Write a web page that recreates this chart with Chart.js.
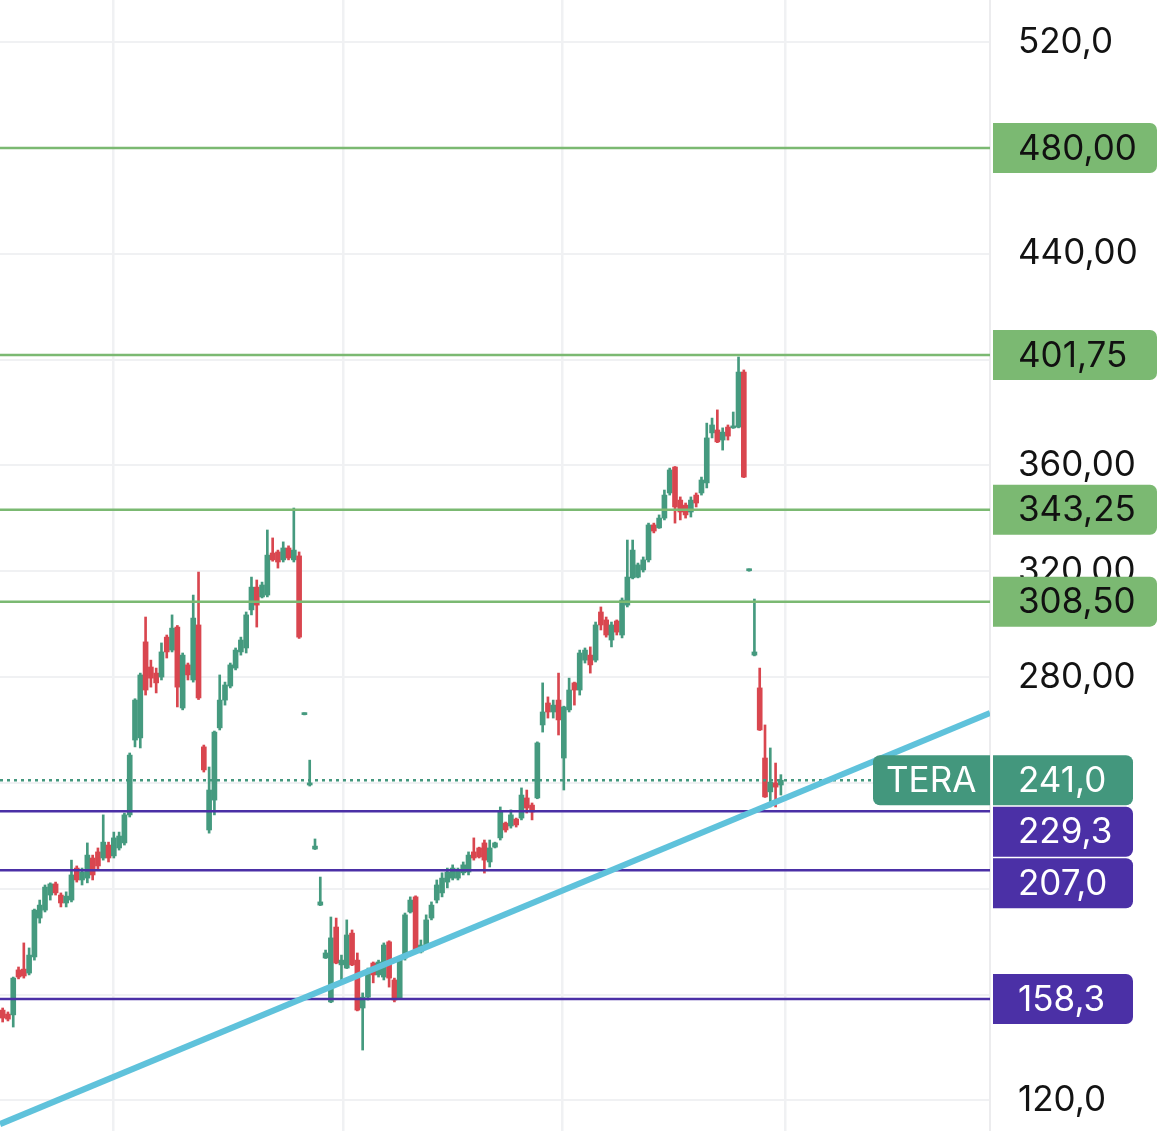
<!DOCTYPE html>
<html>
<head>
<meta charset="utf-8">
<script src="https://cdn.jsdelivr.net/npm/chart.js@4.4.1/dist/chart.umd.min.js"></script>
<style>
  html, body { margin: 0; padding: 0; background: #ffffff; overflow: hidden; }
  #wrap { width: 1170px; height: 1131px; }
</style>
</head>
<body>
<div id="wrap"><canvas id="chart" width="1170" height="1131"></canvas></div>
<script>
// daily candles (oldest first)
const opens = [
  154.1, 152.6, 152.3, 169.3, 169.6, 168.1, 174.2, 188.9, 191.9, 197.6,
  201.8, 197.6, 194.6, 195.7, 207.8, 203.3, 204.0, 211.6, 213.9, 211.6,
  216.5, 212.4, 215.4, 217.3, 227.9, 256.2, 257.0, 293.3, 283.8, 281.5,
  280.0, 295.1, 290.2, 298.9, 268.3, 284.6, 278.9, 299.7, 253.6, 222.2,
  233.5, 260.8, 271.3, 276.6, 283.4, 289.5, 291.0, 305.4, 314.0, 310.3,
  311.0, 326.9, 327.3, 324.3, 328.8, 324.3, 325.8, 265.8, 239.2, 215.0,
  193.8, 173.8, 157.2, 185.5, 171.2, 170.0, 183.2, 173.0, 154.9, 159.0,
  171.9, 167.4, 166.6, 179.9, 165.5, 158.7, 173.8, 191.2, 196.9, 176.1,
  178.7, 188.9, 195.7, 198.4, 202.5, 204.0, 204.0, 206.0, 206.3, 213.9,
  215.4, 217.3, 210.1, 215.7, 219.2, 224.8, 223.7, 226.3, 226.7, 234.3,
  231.6, 234.3, 261.9, 270.2, 266.8, 271.3, 249.4, 267.6, 277.8, 275.1,
  286.4, 288.3, 286.4, 304.6, 301.6, 294.0, 301.2, 295.9, 307.2, 317.5,
  317.8, 320.5, 324.3, 337.5, 336.4, 340.1, 349.6, 359.4, 346.9, 345.0,
  342.4, 348.8, 349.6, 353.4, 372.3, 373.4, 369.6, 374.5, 374.2, 374.5,
  395.3, 320.2, 288.3, 275.9, 249.4, 236.6, 240.0, 239.2
];
const highs = [
  154.9, 153.4, 166.6, 170.4, 179.5, 177.6, 192.3, 195.7, 201.4, 202.2,
  202.5, 198.4, 198.8, 210.8, 208.6, 207.8, 217.3, 212.7, 215.4, 227.9,
  217.6, 221.4, 221.4, 228.6, 251.3, 271.8, 281.5, 302.7, 286.4, 283.4,
  292.9, 295.9, 303.5, 299.5, 289.1, 285.3, 311.0, 319.7, 254.3, 246.0,
  259.6, 280.8, 278.1, 285.3, 291.0, 295.1, 304.6, 317.8, 316.7, 315.9,
  335.6, 332.6, 328.0, 331.1, 329.6, 343.9, 327.3, 266.5, 248.6, 218.8,
  204.4, 176.8, 189.3, 188.9, 174.9, 188.2, 184.4, 175.7, 160.6, 170.0,
  172.3, 173.0, 179.5, 180.3, 166.2, 173.8, 190.8, 196.9, 197.3, 180.6,
  190.1, 195.0, 203.3, 206.0, 207.8, 209.0, 207.8, 210.1, 213.9, 219.2,
  215.7, 218.4, 218.4, 217.6, 230.9, 225.2, 229.8, 226.7, 238.1, 237.3,
  232.4, 255.5, 277.8, 272.5, 271.3, 281.5, 269.0, 279.6, 278.1, 290.2,
  291.0, 291.4, 300.8, 306.5, 302.7, 300.8, 301.6, 309.9, 331.8, 331.8,
  323.1, 325.4, 338.2, 338.2, 341.3, 350.7, 359.0, 359.6, 348.1, 345.8,
  348.1, 349.6, 355.6, 376.0, 377.9, 381.0, 374.2, 375.3, 380.2, 401.0,
  396.1, 320.9, 309.5, 283.4, 261.9, 253.2, 247.5, 243.1
];
const lows = [
  149.6, 150.0, 147.7, 165.9, 166.2, 167.4, 173.0, 187.0, 191.2, 195.7,
  197.6, 193.1, 193.1, 195.0, 202.5, 201.4, 202.2, 203.3, 207.1, 210.8,
  210.1, 211.6, 214.6, 216.5, 227.1, 253.6, 253.2, 273.2, 276.2, 274.0,
  278.9, 287.2, 289.5, 268.7, 267.6, 278.9, 278.1, 271.5, 244.1, 221.0,
  227.9, 260.0, 269.4, 275.9, 282.7, 288.3, 289.1, 303.5, 298.9, 309.9,
  310.3, 323.8, 321.2, 323.5, 324.3, 323.5, 294.6, 265.7, 238.8, 214.8,
  193.6, 173.6, 156.9, 171.6, 165.5, 169.8, 170.9, 153.8, 139.0, 157.9,
  164.4, 166.6, 165.5, 162.8, 157.2, 158.3, 173.0, 190.8, 176.5, 175.7,
  177.9, 188.2, 194.6, 196.9, 200.3, 203.3, 203.3, 205.2, 205.2, 210.8,
  211.6, 205.9, 208.2, 215.4, 218.4, 221.4, 222.9, 223.3, 226.0, 228.6,
  226.0, 234.0, 259.2, 264.5, 264.5, 258.1, 237.3, 266.8, 269.4, 273.2,
  285.3, 281.5, 285.7, 297.8, 295.1, 291.4, 295.9, 294.8, 306.5, 317.1,
  317.5, 319.7, 323.5, 334.5, 336.2, 339.4, 348.8, 338.2, 339.4, 340.1,
  340.5, 344.3, 348.8, 351.5, 370.4, 368.6, 365.8, 369.6, 374.0, 374.2,
  355.4, 320.0, 288.0, 259.8, 234.5, 230.9, 230.9, 235.4
];
const closes = [
  151.1, 150.7, 166.2, 166.6, 167.0, 174.9, 191.9, 193.8, 200.6, 201.8,
  198.4, 194.6, 197.2, 205.2, 203.3, 206.3, 212.7, 205.2, 208.6, 217.6,
  211.6, 219.2, 219.9, 227.9, 250.5, 271.3, 280.8, 275.1, 279.6, 277.8,
  289.5, 289.5, 298.5, 276.2, 288.3, 280.8, 302.3, 272.1, 244.9, 237.3,
  259.2, 271.3, 277.0, 284.6, 290.2, 294.0, 303.5, 314.0, 307.2, 314.8,
  326.1, 324.3, 323.5, 328.8, 325.0, 328.0, 295.1, 266.4, 240.0, 216.1,
  195.0, 175.7, 181.4, 171.9, 173.0, 182.5, 171.2, 154.1, 159.0, 168.5,
  167.4, 172.3, 178.7, 166.2, 157.9, 173.0, 190.1, 195.7, 176.8, 178.7,
  188.2, 193.8, 201.4, 204.0, 206.3, 207.8, 207.1, 209.0, 212.7, 211.6,
  212.0, 210.8, 215.4, 217.3, 229.0, 222.2, 227.9, 224.1, 235.4, 230.5,
  229.0, 255.1, 266.8, 266.8, 269.4, 263.8, 268.7, 275.1, 275.1, 289.1,
  290.2, 284.6, 299.7, 299.7, 295.9, 299.7, 297.0, 309.1, 317.8, 328.0,
  322.4, 324.3, 337.5, 335.2, 340.1, 348.8, 358.3, 344.3, 342.4, 341.3,
  346.9, 345.8, 354.5, 370.4, 375.3, 368.9, 372.6, 371.1, 374.9, 395.3,
  355.6, 320.7, 289.5, 260.0, 234.7, 240.3, 238.4, 241.0
];

// drawn levels and their price tags
const greenLevels = [480, 401.75, 343.25, 308.5];
const greenLabels = ['480,00', '401,75', '343,25', '308,50'];
const purpleLevels = [229.3, 207.0, 158.3];
const purpleLabels = ['229,3', '207,0', '158,3'];
const lastPrice = 241.0;
const lastLabel = '241,0';
const symbol = 'TERA';

// rising trend line, value at the left and right edge of the plot
const trendIdx = [-0.5, 186.5];
const trendVal = [111.0, 266.4];

// axis
const yTicks = [120, 160, 200, 240, 280, 320, 360, 400, 440, 480, 520];
const yTickLabels = ['120,0', '160,0', '200,0', '240,0', '280,00', '320,00', '360,00', '400,00', '440,00', '480,00', '520,0'];
const xGrid = [20.8, 64.3, 105.7, 147.8];

const UP = '#459a7f';
const DOWN = '#d9464f';
const GREEN = '#7bb972';
const PURPLE = '#4b30a6';
const TEAL = '#43977d';
const FONT = 'Inter, "Noto Sans", sans-serif';
const FONT_SIZE = 35;

const xMin = -0.5, xMax = 186.5;
const candleColors = opens.map((o, i) => closes[i] >= o ? UP : DOWN);

function levelLine(v, color, dash) {
  return {
    type: 'line',
    data: [{ x: xMin, y: v }, { x: xMax, y: v }],
    borderColor: color,
    borderWidth: 2.5,
    borderDash: dash || [],
    pointRadius: 0,
    order: 2
  };
}

const datasets = [
  {
    // wicks
    data: opens.map((o, i) => ({ x: i, y: [lows[i], highs[i]] })),
    backgroundColor: candleColors,
    barThickness: 2,
    grouped: false,
    order: 11
  },
  {
    // bodies
    data: opens.map((o, i) => ({ x: i, y: [o, closes[i]] })),
    backgroundColor: candleColors,
    barThickness: 5,
    minBarLength: 2,
    grouped: false,
    order: 10
  },
  levelLine(lastPrice, TEAL, [3, 4]),
  ...greenLevels.map(v => levelLine(v, GREEN)),
  ...purpleLevels.map(v => levelLine(v, PURPLE)),
  {
    type: 'line',
    data: trendIdx.map((x, i) => ({ x: x, y: trendVal[i] })),
    borderColor: '#5fc2db',
    borderWidth: 6,
    pointRadius: 0,
    order: 1
  }
];

// price tags on the right axis + symbol tag
const tagPlugin = {
  id: 'tags',
  afterDraw(chart) {
    const ctx = chart.ctx;
    const y = chart.scales.y;
    const axisLeft = chart.chartArea.right;
    const h = 50;

    let tags = [];
    greenLevels.forEach((v, i) => tags.push({ v, text: greenLabels[i], bg: GREEN, fg: '#111111', w: 164 }));
    purpleLevels.forEach((v, i) => tags.push({ v, text: purpleLabels[i], bg: PURPLE, fg: '#ffffff', w: 140 }));
    tags.push({ v: lastPrice, text: lastLabel, bg: TEAL, fg: '#ffffff', w: 140, last: true });
    tags.forEach(t => t.cy = y.getPixelForValue(t.v));
    tags.sort((a, b) => a.cy - b.cy);

    // push overlapping tags down like the app does
    let prevBottom = -1000;
    tags.forEach(t => {
      t.top = Math.max(t.cy - h / 2, prevBottom + 1.5);
      prevBottom = t.top + h;
    });

    ctx.save();
    ctx.font = FONT_SIZE + 'px ' + FONT;
    ctx.textBaseline = 'middle';
    ctx.textAlign = 'left';
    // draw the last price tag last so it sits on top
    tags.filter(t => !t.last).concat(tags.filter(t => t.last)).forEach(t => {
      ctx.fillStyle = t.bg;
      ctx.beginPath();
      ctx.roundRect(axisLeft + 3, t.top, t.w, h, [0, 7, 7, 0]);
      ctx.fill();
      ctx.fillStyle = t.fg;
      ctx.fillText(t.text, axisLeft + 28, t.top + h / 2 + 1);

      if (t.last) {
        ctx.fillStyle = TEAL;
        ctx.beginPath();
        ctx.roundRect(axisLeft - 117, t.top, 117, h, [7, 0, 0, 7]);
        ctx.fill();
        ctx.fillStyle = '#ffffff';
        ctx.fillText(symbol, axisLeft - 104, t.top + h / 2 + 1);
      }
    });
    ctx.restore();
  }
};

new Chart(document.getElementById('chart'), {
  type: 'bar',
  data: { datasets: datasets },
  plugins: [tagPlugin],
  options: {
    responsive: false,
    animation: false,
    devicePixelRatio: 1,
    layout: { padding: 0 },
    plugins: {
      legend: { display: false },
      tooltip: { enabled: false }
    },
    scales: {
      x: {
        type: 'linear',
        min: xMin,
        max: xMax,
        offset: false,
        grid: { color: '#f0f1f3', lineWidth: 2.5, offset: false, drawTicks: false },
        border: { display: false },
        ticks: { display: false },
        afterBuildTicks: s => { s.ticks = xGrid.map(v => ({ value: v })); },
        afterFit: s => { s.height = 0; s.paddingLeft = 0; s.paddingRight = 0; }
      },
      y: {
        position: 'right',
        min: 108.4,
        max: 535.95,
        grid: { color: '#f0f1f3', lineWidth: 2, drawTicks: false },
        border: { display: true, color: '#ececee', width: 2 },
        ticks: {
          padding: 28,
          color: '#131313',
          font: { family: FONT, size: FONT_SIZE },
          callback: (v) => yTickLabels[yTicks.indexOf(v)]
        },
        afterBuildTicks: s => { s.ticks = yTicks.map(v => ({ value: v })); },
        // full-height plot: no room kept for the end labels
        afterFit: s => { s.width = 180; s.paddingTop = 0; s.paddingBottom = 0; }
      }
    }
  }
});
</script>
</body>
</html>
